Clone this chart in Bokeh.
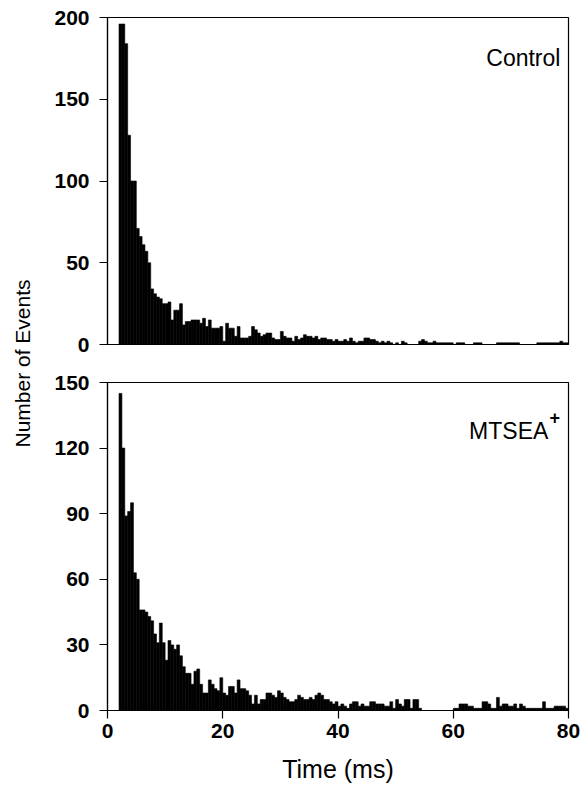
from bokeh.plotting import figure
from bokeh.models import Range1d, FixedTicker, Label, ColumnDataSource
from bokeh.layouts import row, column
from bokeh.embed import file_html
from bokeh.resources import INLINE
import math

# ---- data (dwell-time histograms, 0.5 ms bins starting at 2 ms) ----
bin_start_ms = 2.0
bin_width_ms = 0.5

control_counts = [
    196, 196, 184, 128, 100, 100, 71, 66, 61, 57,
    50, 34, 31, 29, 28, 25, 25, 26, 15, 21,
    21, 25, 12, 14, 14, 15, 15, 15, 13, 16,
    11, 15, 10, 10, 10, 11, 2, 13, 10, 10,
    5, 11, 4, 4, 4, 5, 11, 9, 7, 5,
    6, 7, 7, 4, 3, 3, 8, 5, 4, 4,
    2, 5, 3, 4, 6, 5, 5, 4, 5, 3,
    4, 4, 3, 3, 2, 3, 2, 2, 3, 2,
    4, 2, 1, 2, 2, 4, 4, 3, 3, 2,
    1, 2, 1, 2, 1, 0, 1, 0, 2, 1,
    0, 0, 0, 0, 2, 3, 2, 1, 1, 2,
    1, 1, 1, 1, 1, 1, 0, 1, 1, 1,
    0, 0, 0, 1, 1, 1, 0, 0, 0, 0,
    0, 1, 1, 1, 1, 1, 1, 1, 1, 0,
    0, 0, 0, 0, 0, 1, 1, 1, 1, 1,
    1, 1, 1, 2, 1, 1,
]

mtsea_counts = [
    145, 120, 89, 91, 95, 63, 60, 46, 46, 45,
    43, 41, 35, 31, 40, 31, 23, 32, 30, 28,
    30, 25, 20, 17, 17, 12, 18, 19, 12, 8,
    8, 14, 12, 10, 9, 15, 8, 7, 11, 11,
    8, 14, 10, 10, 9, 7, 3, 7, 3, 5,
    5, 8, 8, 7, 6, 9, 8, 6, 5, 4,
    4, 5, 7, 6, 5, 5, 6, 5, 7, 8,
    7, 5, 5, 4, 3, 4, 2, 3, 2, 1,
    3, 4, 4, 2, 3, 2, 2, 4, 4, 3,
    3, 3, 2, 2, 4, 1, 5, 3, 2, 5,
    5, 1, 5, 5, 1, 0, 0, 0, 0, 0,
    0, 0, 0, 0, 0, 0, 1, 1, 3, 3,
    3, 2, 2, 1, 1, 1, 4, 4, 3, 1,
    1, 6, 2, 3, 3, 2, 2, 3, 1, 3,
    2, 1, 1, 1, 1, 1, 1, 4, 1, 1,
    1, 2, 2, 2, 2, 1,
]

x_ticks = [0, 20, 40, 60, 80]
control_yticks = [0, 50, 100, 150, 200]
mtsea_yticks = [0, 30, 60, 90, 120, 150]

FONT = "Liberation Sans"
LABEL_W = 48


def hist_source(counts):
    left = [bin_start_ms + i * bin_width_ms for i in range(len(counts))]
    right = [l + bin_width_ms for l in left]
    return ColumnDataSource(dict(left=left, right=right, top=counts,
                                 bottom=[0] * len(counts)))


def style(p, yticks):
    p.xgrid.visible = False
    p.ygrid.visible = False
    p.outline_line_color = "black"
    p.outline_line_width = 1.2
    p.background_fill_color = "white"
    p.border_fill_color = "white"
    for ax in p.yaxis + p.xaxis:
        ax.axis_line_color = "black"
        ax.axis_line_width = 1.2
        ax.major_tick_in = 0
        ax.major_tick_out = 8
        ax.major_tick_line_width = 1.2
        ax.minor_tick_line_color = None
        ax.major_label_text_font = FONT
        ax.major_label_text_font_style = "bold"
        ax.major_label_text_font_size = "21px"
        ax.major_label_text_color = "black"
    p.yaxis.ticker = FixedTicker(ticks=yticks)
    p.yaxis.major_label_standoff = 10
    p.xaxis.ticker = FixedTicker(ticks=x_ticks)


# ---- top panel: Control ----
p1 = figure(width=584 - LABEL_W, height=363,
            x_range=Range1d(0, 80), y_range=Range1d(0, 200),
            output_backend="svg", toolbar_location=None,
            min_border_left=107 - LABEL_W, min_border_right=16,
            min_border_top=17, min_border_bottom=19)
p1.quad(left="left", right="right", top="top", bottom="bottom",
        source=hist_source(control_counts),
        fill_color="black", line_color="black", line_width=0.6)
style(p1, control_yticks)
p1.xaxis.visible = False
p1.add_layout(Label(x=78.6, y=175, text="Control", text_font=FONT,
                    text_font_size="23px", text_align="right",
                    text_baseline="alphabetic", text_color="black"))

# ---- bottom panel: MTSEA+ ----
p2 = figure(width=584 - LABEL_W, height=432,
            x_range=Range1d(0, 80), y_range=Range1d(0, 150),
            output_backend="svg", toolbar_location=None,
            min_border_left=107 - LABEL_W, min_border_right=16,
            min_border_top=19, min_border_bottom=85)
p2.quad(left="left", right="right", top="top", bottom="bottom",
        source=hist_source(mtsea_counts),
        fill_color="black", line_color="black", line_width=0.6)
style(p2, mtsea_yticks)
p2.xaxis.major_label_standoff = 5
p2.xaxis.axis_label = "Time (ms)"
p2.xaxis.axis_label_text_font = FONT
p2.xaxis.axis_label_text_font_style = "normal"
p2.xaxis.axis_label_text_font_size = "25px"
p2.xaxis.axis_label_standoff = 14
p2.xaxis.axis_label_text_color = "black"
p2.add_layout(Label(x=76.5, y=128, text="MTSEA", text_font=FONT,
                    text_font_size="23px", text_align="right",
                    text_baseline="alphabetic", text_color="black"))
p2.add_layout(Label(x=76.7, y=134, text="+", text_font=FONT,
                    text_font_size="18px", text_font_style="bold",
                    text_align="left", text_baseline="alphabetic",
                    text_color="black"))

# ---- shared y-axis label ----
pl = figure(width=LABEL_W, height=795, output_backend="svg",
            x_range=Range1d(0, LABEL_W), y_range=Range1d(0, 795),
            toolbar_location=None, min_border=0)
pl.axis.visible = False
pl.grid.visible = False
pl.outline_line_color = None
pl.add_layout(Label(x=22, y=795 - 363, text="Number of Events",
                    angle=math.pi / 2, text_font=FONT,
                    text_font_size="21px", text_align="center",
                    text_baseline="middle", text_color="black"))

layout = row(pl, column(p1, p2, spacing=0), spacing=0)

open("out.html", "w").write(file_html(layout, INLINE))
